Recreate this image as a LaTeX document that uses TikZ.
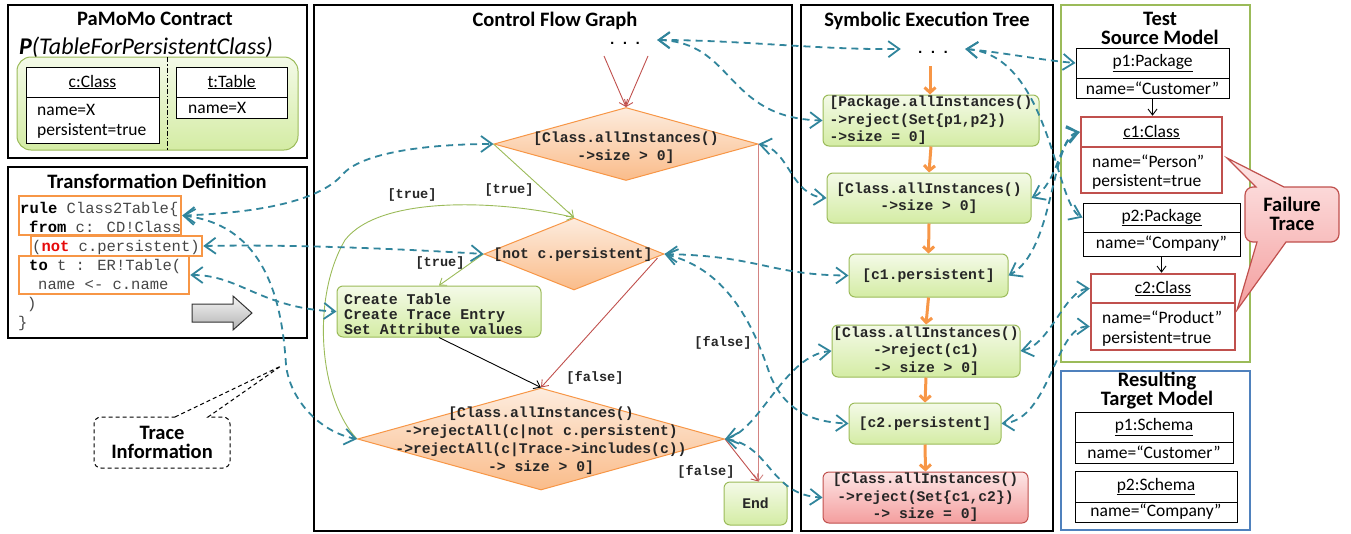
\documentclass[tikz,border=0pt]{standalone}
\usepackage{fontspec}
\setmainfont{Carlito}
\newfontfamily\codefont{Liberation Mono}
\usetikzlibrary{arrows.meta,shapes.geometric,calc}

\definecolor{linkteal}{RGB}{49,133,156}
\definecolor{flowred}{RGB}{192,80,77}
\definecolor{flowgreen}{RGB}{155,187,89}
\definecolor{orng}{RGB}{247,150,70}
\definecolor{cfgtop}{RGB}{253,236,222}
\definecolor{cfgbot}{RGB}{250,188,138}
\definecolor{grntop}{RGB}{244,250,232}
\definecolor{grnbot}{RGB}{212,236,164}
\definecolor{grnedge}{RGB}{155,187,89}
\definecolor{redtop}{RGB}{253,230,230}
\definecolor{redbot}{RGB}{244,158,158}
\definecolor{rededge}{RGB}{192,80,77}
\definecolor{blueedge}{RGB}{79,129,189}
\definecolor{codegray}{RGB}{70,70,70}
\definecolor{kwred}{RGB}{230,10,10}

\newcommand\codekw[1]{\textcolor{black}{\bfseries #1}}

\begin{document}
\begin{tikzpicture}[x=1pt,y=-1pt,
  panel/.style={draw, line width=2.5pt},
  ptitle/.style={font=\fontsize{20.5}{19}\selectfont\bfseries, align=center, inner sep=0pt},
  umlbox/.style={draw, line width=1pt, fill=white, inner sep=0pt, font=\fontsize{17.5}{21}\selectfont},
  failobj/.style={umlbox, draw=rededge, line width=2.5pt},
  umltext/.style={font=\fontsize{17.5}{21}\selectfont, inner sep=0pt, anchor=west},
  codeline/.style={font=\codefont\fontsize{15.5}{19}\selectfont, text=codegray, anchor=base west, inner sep=0pt},
  codebox/.style={draw=orng, line width=2.5pt, inner sep=0pt},
  cfgtxt/.style={font=\codefont\bfseries\fontsize{14.7}{18}\selectfont, text=black!85, align=center, inner sep=0pt},
  decision/.style={diamond, draw=orng, line width=1pt, top color=cfgtop, bottom color=cfgbot, inner sep=0pt},
  stepbox/.style={draw=grnedge, line width=1pt, rounded corners=6pt, top color=grntop, bottom color=grnbot, inner sep=0pt,
    font=\codefont\bfseries\fontsize{14.7}{17.6}\selectfont, text=black!85, align=center},
  failstep/.style={stepbox, draw=rededge, top color=redtop, bottom color=redbot},
  lbl/.style={font=\codefont\bfseries\fontsize{13.6}{16}\selectfont, text=black!85, inner sep=0pt},
  dots/.style={font=\codefont\bfseries\fontsize{14.7}{17}\selectfont, text height=9pt, text depth=0pt, minimum width=64pt, inner sep=0pt},
  redflow/.style={draw=flowred, line width=0.9pt, -{Straight Barb[length=6pt,width=9pt]}},
  greenflow/.style={draw=flowgreen, line width=0.9pt, -{Straight Barb[length=6pt,width=9pt]}},
  blackflow/.style={draw=black, line width=0.9pt, -{Straight Barb[length=6pt,width=9pt]}},
  setflow/.style={draw=orng, line width=3pt, -{Straight Barb[length=5pt,width=11pt]}},
  link/.style={draw=linkteal, line width=1.8pt, dash pattern=on 7pt off 5pt,
    {Straight Barb[length=11pt,width=16pt]}-{Straight Barb[length=11pt,width=16pt]}}
]
\useasboundingbox (0,0) rectangle (1351,533);

% ---------------- PaMoMo contract ----------------
\draw[panel] (8,5) rectangle (307,158);
\node[ptitle] (pmtitle) at (155,19) {PaMoMo Contract};
\node[font=\fontsize{24}{26}\selectfont\itshape, anchor=west, inner sep=0pt] (pmname) at (19,47) {\textbf{P}(TableForPersistentClass)};
\draw[draw=grnedge, line width=1pt, rounded corners=14pt, top color=grntop, bottom color=grnbot] (17,57) rectangle (298,150);
\draw[line width=1pt, dash pattern=on 5pt off 2pt on 1.5pt off 2pt] (167,57) -- (167,150);
\node[umlbox, minimum width=133pt, minimum height=30pt] (cch) at (92.5,82) {\underline{c:Class}};
\node[umlbox, minimum width=133pt, minimum height=46pt] (cca) at (92.5,120) {};
\node[umltext] (cca1) at (37,110) {name=X};
\node[umltext] (cca2) at (37,131) {persistent=true};
\node[umlbox, minimum width=111pt, minimum height=30pt] (tth) at (231.5,82) {\underline{t:Table}};
\node[umlbox, minimum width=111pt, minimum height=21pt] (tta) at (231.5,107.5) {};
\node[umltext] (tta1) at (188,108) {name=X};

% ---------------- Transformation definition ----------------
\draw[panel] (8,167) rectangle (307,338);
\node[ptitle] (tdtitle) at (157,181) {Transformation Definition};
\node[codebox, minimum width=162pt, minimum height=39pt] (codeA) at (100,215.5) {};
\node[codebox, minimum width=171pt, minimum height=20pt] (codeB) at (116.5,246) {};
\node[codebox, minimum width=170pt, minimum height=38pt] (codeC) at (104,275) {};
\node[codeline] (l1) at (20,213) {\codekw{rule} Class2Table\{};
\node[codeline] (l2) at (29,232) {\codekw{from} c: CD!Class};
\node[codeline] (l3) at (32,251) {(\textcolor{kwred}{\bfseries not} c.persistent)};
\node[codeline] (l4) at (29,270) {\codekw{to} t : ER!Table(};
\node[codeline] (l5) at (38,289) {name <- c.name};
\node[codeline] (l6) at (27,308) {)};
\node[codeline] (l7) at (18,327) {\}};
\draw[draw=black!80, line width=1pt, top color=gray!8, bottom color=gray!60]
  (192,304) -- (233,304) -- (233,296) -- (252,313) -- (233,330) -- (233,322) -- (192,322) -- cycle;

% trace information callout
\draw[line width=1pt, dash pattern=on 4pt off 3pt] (175,417) -- (281,366) -- (208,417)
  [rounded corners=7pt] -- (230,417) -- (230,468) -- (94,468) -- (94,417) -- (175,417);
\node[ptitle] (traceinfo) at (162,442) {Trace\\Information};

% ---------------- Control flow graph ----------------
\draw[panel] (314,5) rectangle (792,531);
\node[ptitle] (cfgtitle) at (555,21) {Control Flow Graph};
\node[dots] (cfgdots) at (625,40) {.\hspace{4pt}.\hspace{4pt}.};
\coordinate (in1) at (604,56);
\coordinate (in2) at (648,56);

\node[decision, minimum width=264pt, minimum height=73pt] (d1) at (626,144) {};
\node[cfgtxt] (d1t) at (626,148) {[Class.allInstances()\\->size > 0]};
\node[decision, minimum width=180pt, minimum height=72pt] (d2) at (574,254) {};
\node[cfgtxt] (d2t) at (573,255) {[not c.persistent]};
\node[decision, minimum width=367pt, minimum height=102pt] (d3) at (541,439) {};
\node[cfgtxt] (d3t) at (541,441) {[Class.allInstances()\\->rejectAll(c|not c.persistent)\\->rejectAll(c|Trace->includes(c))\\-> size > 0]};
\node[stepbox, minimum width=204pt, minimum height=51pt] (act) at (439,311.5) {};
\node[cfgtxt, align=left, font=\codefont\bfseries\fontsize{14.9}{15}\selectfont] (actt) at (433.5,314) {Create Table\\Create Trace Entry\\Set Attribute values};
\node[stepbox, minimum width=63pt, minimum height=43pt] (endb) at (755.5,503.5) {End};
\coordinate (endtop) at (d1.east |- endb.north);

\draw[redflow] (in1) -- (d1.north);
\draw[redflow] (in2) -- (d1.north);
\draw[greenflow] (d1.west) -- (d2.north);
\draw[greenflow] (d3.west) .. controls (320,400) and (310,300) .. (345,240)
  .. controls (380,195) and (500,200) .. (d2.north);
\draw[greenflow] (d2.west) -- (act.north);
\draw[blackflow] (act.south) -- (d3.north);
\draw[redflow] ($(d2.east)+(-7,4)$) -- (d3.north);
\draw[redflow, draw=flowred!70] (d1.east) -- (endtop);
\draw[redflow] (d3.east) -- (endtop);

\node[lbl] (lt1) at (509,190) {[true]};
\node[lbl] (lt2) at (412,195) {[true]};
\node[lbl] (lt3) at (440,263) {[true]};
\node[lbl] (lf1) at (595,378) {[false]};
\node[lbl] (lf2) at (723,343) {[false]};
\node[lbl] (lf3) at (706,472) {[false]};

% ---------------- Symbolic execution tree ----------------
\draw[panel] (801,5) rectangle (1053,531);
\node[ptitle] (settitle) at (927,21) {Symbolic Execution Tree};
\node[dots] (setdots) at (933,49) {.\hspace{4pt}.\hspace{4pt}.};
\coordinate (setin) at (930,66);
\node[stepbox, align=left, minimum width=216pt, minimum height=51pt] (s1) at (931,120.5) {[Package.allInstances()\\->reject(Set\{p1,p2\})\\->size = 0]};
\node[stepbox, minimum width=204pt, minimum height=50pt] (s2) at (929,198) {[Class.allInstances()\\->size > 0]};
\node[stepbox, minimum width=159pt, minimum height=43pt] (s3) at (928.5,275.5) {[c1.persistent]};
\node[stepbox, minimum width=188pt, minimum height=52pt] (s4) at (926,351) {[Class.allInstances()\\->reject(c1)\\-> size > 0]};
\node[stepbox, minimum width=152pt, minimum height=41pt] (s5) at (925,423.5) {[c2.persistent]};
\node[failstep, minimum width=205pt, minimum height=51pt] (s6) at (925.5,497.5) {[Class.allInstances()\\->reject(Set\{c1,c2\})\\-> size = 0]};
\draw[setflow] (setin) -- (setin |- s1.north);
\draw[setflow] (s1.south) -- (s2.north);
\draw[setflow] (s2.south) -- (s3.north);
\draw[setflow] (s3.south) -- (s4.north);
\draw[setflow] (s4.south) -- (s5.north);
\draw[setflow] (s5.south) -- (s6.north);

% ---------------- Test source model ----------------
\draw[panel, draw=grnedge] (1061,5) rectangle (1250,362);
\node[ptitle] (srctitle) at (1160,28) {Test\\Source Model};
\node[umlbox, minimum width=153pt, minimum height=30pt] (pkg1h) at (1152.5,63) {\underline{p1:Package}};
\node[umlbox, minimum width=153pt, minimum height=20pt] (pkg1a) at (1152.5,88) {name=“Customer”};
\node[failobj, minimum width=141pt, minimum height=30pt] (cls1h) at (1151.5,132) {\underline{c1:Class}};
\node[failobj, minimum width=141pt, minimum height=46pt] (cls1a) at (1151.5,170) {};
\node[umltext] (cls1a1) at (1092,161) {name=“Person”};
\node[umltext] (cls1a2) at (1092,182) {persistent=true};
\node[umlbox, minimum width=157pt, minimum height=29pt] (pkg2h) at (1161.5,217.5) {\underline{p2:Package}};
\node[umlbox, minimum width=157pt, minimum height=24pt] (pkg2a) at (1161.5,244) {name=“Company”};
\node[failobj, minimum width=144pt, minimum height=29pt] (cls2h) at (1163,288.5) {\underline{c2:Class}};
\node[failobj, minimum width=144pt, minimum height=47pt] (cls2a) at (1163,326.5) {};
\node[umltext] (cls2a1) at (1102,317) {name=“Product”};
\node[umltext] (cls2a2) at (1102,339) {persistent=true};
\draw[blackflow] (pkg1a.south) -- (pkg1a.south |- cls1h.north);
\draw[blackflow] (pkg2a.south) -- (pkg2a.south |- cls2h.north);

% failure trace callout
\draw[draw=rededge, line width=1.2pt, top color=redtop, bottom color=redbot]
  (1245,215) [rounded corners=8pt] -- (1245,187) [sharp corners] -- (1256,187) -- (1227,158) -- (1284,187)
  [rounded corners=8pt] -- (1339,187) -- (1339,242) [sharp corners] -- (1286,242) -- (1237,310) -- (1257,242)
  [rounded corners=8pt] -- (1245,242) -- cycle;
\node[ptitle] (failtxt) at (1292,214) {Failure\\Trace};

% ---------------- Resulting target model ----------------
\draw[panel, draw=blueedge] (1061,371) rectangle (1250,530);
\node[ptitle] (tgttitle) at (1157,391) {Resulting\\Target Model};
\node[umlbox, minimum width=158pt, minimum height=30pt] (sch1h) at (1154,427) {\underline{p1:Schema}};
\node[umlbox, minimum width=158pt, minimum height=21pt] (sch1a) at (1154,452.5) {name=“Customer”};
\node[umlbox, minimum width=162pt, minimum height=31pt] (sch2h) at (1156,486.5) {\underline{p2:Schema}};
\node[umlbox, minimum width=162pt, minimum height=20pt] (sch2a) at (1156,512) {name=“Company”};

% ---------------- trace links ----------------
\draw[link] (cfgdots.east) .. controls (740,40) and (820,50) .. (setdots.west);
\draw[link] (cfgdots.east) .. controls (735,42) and (725,118) .. (s1.west);
\draw[link] (setdots.east) .. controls (1000,52) and (1040,60) .. (pkg1h.west);
\draw[link] (setdots.east) .. controls (1050,55) and (1055,205) .. (pkg2h.west);
\draw[link] (codeA.east) .. controls (280,212) and (325,195) .. (343,174)
  .. controls (365,150) and (440,144) .. (d1.west);
\draw[link] (codeA.east) .. controls (265,225) and (282,300) .. (286,365)
  .. controls (290,400) and (320,432) .. (d3.west);
\draw[link] (codeB.east) .. controls (300,244) and (420,250) .. (d2.west);
\draw[link] (codeC.east) .. controls (240,275) and (260,308) .. (act.west);
\draw[link] (d1.east) .. controls (790,150) and (790,195) .. (s2.west);
\draw[link] (d2.east) .. controls (760,256) and (770,275) .. (s3.west);
\draw[link] (d2.east) .. controls (730,270) and (755,330) .. (770,375)
  .. controls (785,410) and (810,422) .. (s5.west);
\draw[link] (d3.east) .. controls (760,430) and (785,355) .. (s4.west);
\draw[link] (d3.east) .. controls (770,445) and (770,495) .. (s6.west);
\draw[link] (cls1h.west) .. controls (1060,135) and (1058,185) .. (s2.east);
\draw[link] (cls1h.west) .. controls (1050,140) and (1055,250) .. (s3.east);
\draw[link] (cls2h.west) .. controls (1065,290) and (1050,345) .. (s4.east);
\draw[link] (cls2a.west) .. controls (1055,326) and (1050,420) .. (s5.east);
\end{tikzpicture}
\end{document}
